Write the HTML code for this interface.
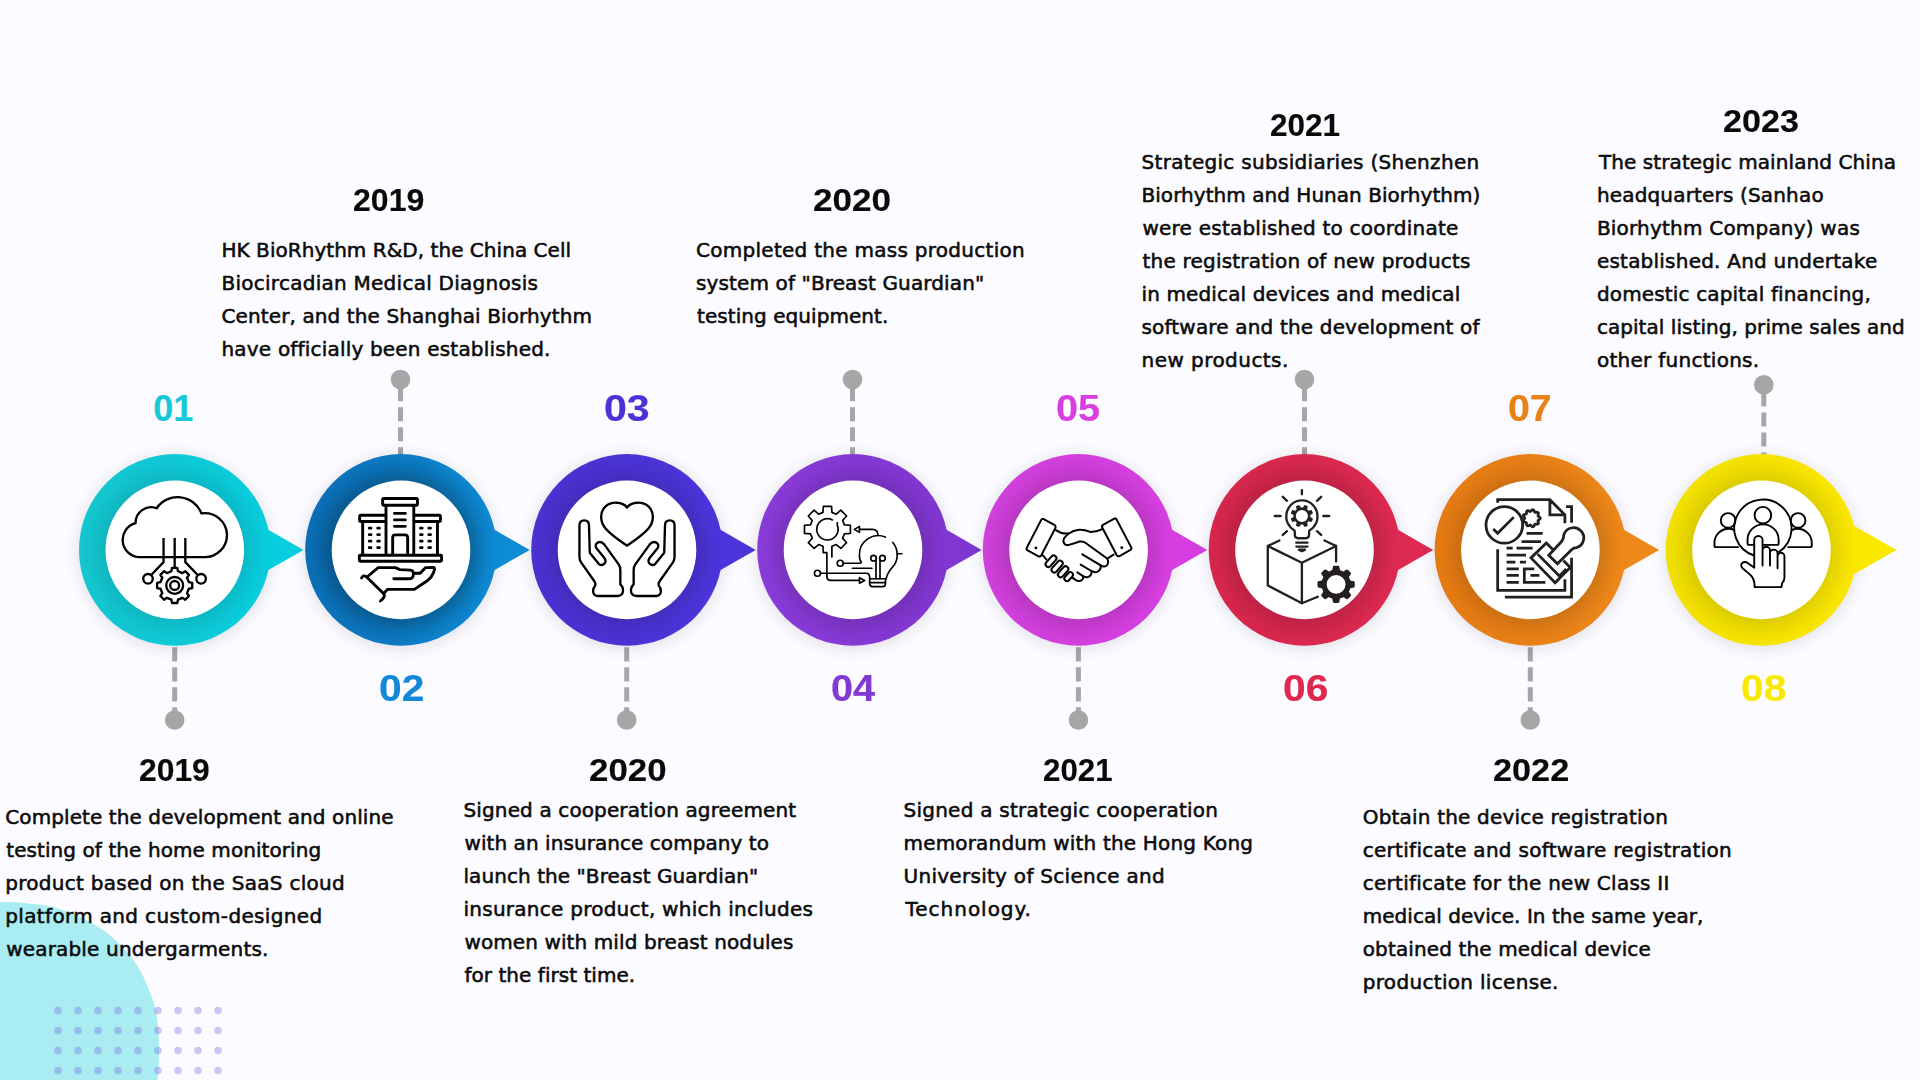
<!DOCTYPE html>
<html lang="en"><head><meta charset="utf-8"><title>BioRhythm milestones timeline</title>
<style>
html,body{margin:0;padding:0}
body{width:1920px;height:1080px;overflow:hidden;background:#fcfbff}
#stage{position:relative;width:1920px;height:1080px;overflow:hidden;background:#fcfbff;color:#0a0a0a}
#gfx{position:absolute;left:0;top:0}
.ln,.yr,.no{margin:0;padding:0}
.ln{position:absolute;white-space:nowrap;font-family:"DejaVu Sans", "Liberation Sans", sans-serif;font-size:20.0px;line-height:20.0px;height:20.0px;color:#0b0b0b;-webkit-text-stroke:0.55px #0b0b0b}
.yr{position:absolute;white-space:nowrap;font-family:"Liberation Sans", "DejaVu Sans", sans-serif;font-weight:bold;font-size:31.0px;line-height:31.0px;color:#0a0a0a;-webkit-text-stroke:0.15px #0a0a0a;transform-origin:0 0}
.no{position:absolute;white-space:nowrap;font-family:"Liberation Sans", "DejaVu Sans", sans-serif;font-weight:bold;font-size:36.0px;line-height:36.0px;-webkit-text-stroke:0.2px currentColor;transform-origin:0 0}

</style></head><body><div id="stage">
<svg id="gfx" width="1920" height="1080" viewBox="0 0 1920 1080">
<defs>
<linearGradient id="g0" gradientUnits="userSpaceOnUse" x1="79.0" y1="0" x2="304.8" y2="0"><stop offset="0" stop-color="#14c6cf"/><stop offset="1" stop-color="#05cfe1"/></linearGradient>
<linearGradient id="g1" gradientUnits="userSpaceOnUse" x1="305.2" y1="0" x2="531.0" y2="0"><stop offset="0" stop-color="#0a6eb6"/><stop offset="1" stop-color="#0e8fd9"/></linearGradient>
<linearGradient id="g2" gradientUnits="userSpaceOnUse" x1="531.2" y1="0" x2="757.0" y2="0"><stop offset="0" stop-color="#4a31d0"/><stop offset="1" stop-color="#4b35dc"/></linearGradient>
<linearGradient id="g3" gradientUnits="userSpaceOnUse" x1="757.2" y1="0" x2="983.0" y2="0"><stop offset="0" stop-color="#8a3bd9"/><stop offset="1" stop-color="#7f35cf"/></linearGradient>
<linearGradient id="g4" gradientUnits="userSpaceOnUse" x1="982.8" y1="0" x2="1208.6" y2="0"><stop offset="0" stop-color="#cf40da"/><stop offset="1" stop-color="#d83ee2"/></linearGradient>
<linearGradient id="g5" gradientUnits="userSpaceOnUse" x1="1208.7" y1="0" x2="1434.5" y2="0"><stop offset="0" stop-color="#d6264c"/><stop offset="1" stop-color="#de2a52"/></linearGradient>
<linearGradient id="g6" gradientUnits="userSpaceOnUse" x1="1434.6" y1="0" x2="1660.4" y2="0"><stop offset="0" stop-color="#e57a12"/><stop offset="1" stop-color="#ef8a1b"/></linearGradient>
<linearGradient id="g7" gradientUnits="userSpaceOnUse" x1="1665.7" y1="0" x2="1891.5" y2="0"><stop offset="0" stop-color="#f2e000"/><stop offset="1" stop-color="#fbe900"/></linearGradient>
<radialGradient id="sh0" cx="0.5" cy="0.5" r="0.5"><stop offset="0.703" stop-color="#000" stop-opacity="0.100"/><stop offset="0.773" stop-color="#000" stop-opacity="0.072"/><stop offset="0.843" stop-color="#000" stop-opacity="0.042"/><stop offset="0.913" stop-color="#000" stop-opacity="0.017"/><stop offset="0.988" stop-color="#000" stop-opacity="0"/></radialGradient>
<radialGradient id="sh1" cx="0.5" cy="0.5" r="0.5"><stop offset="0.703" stop-color="#000" stop-opacity="0.260"/><stop offset="0.773" stop-color="#000" stop-opacity="0.187"/><stop offset="0.843" stop-color="#000" stop-opacity="0.109"/><stop offset="0.913" stop-color="#000" stop-opacity="0.044"/><stop offset="0.988" stop-color="#000" stop-opacity="0"/></radialGradient>
<radialGradient id="sh2" cx="0.5" cy="0.5" r="0.5"><stop offset="0.703" stop-color="#000" stop-opacity="0.120"/><stop offset="0.773" stop-color="#000" stop-opacity="0.086"/><stop offset="0.843" stop-color="#000" stop-opacity="0.050"/><stop offset="0.913" stop-color="#000" stop-opacity="0.020"/><stop offset="0.988" stop-color="#000" stop-opacity="0"/></radialGradient>
<radialGradient id="sh3" cx="0.5" cy="0.5" r="0.5"><stop offset="0.703" stop-color="#000" stop-opacity="0.130"/><stop offset="0.773" stop-color="#000" stop-opacity="0.094"/><stop offset="0.843" stop-color="#000" stop-opacity="0.055"/><stop offset="0.913" stop-color="#000" stop-opacity="0.022"/><stop offset="0.988" stop-color="#000" stop-opacity="0"/></radialGradient>
<radialGradient id="sh4" cx="0.5" cy="0.5" r="0.5"><stop offset="0.703" stop-color="#000" stop-opacity="0.130"/><stop offset="0.773" stop-color="#000" stop-opacity="0.094"/><stop offset="0.843" stop-color="#000" stop-opacity="0.055"/><stop offset="0.913" stop-color="#000" stop-opacity="0.022"/><stop offset="0.988" stop-color="#000" stop-opacity="0"/></radialGradient>
<radialGradient id="sh5" cx="0.5" cy="0.5" r="0.5"><stop offset="0.703" stop-color="#000" stop-opacity="0.140"/><stop offset="0.773" stop-color="#000" stop-opacity="0.101"/><stop offset="0.843" stop-color="#000" stop-opacity="0.059"/><stop offset="0.913" stop-color="#000" stop-opacity="0.024"/><stop offset="0.988" stop-color="#000" stop-opacity="0"/></radialGradient>
<radialGradient id="sh6" cx="0.5" cy="0.5" r="0.5"><stop offset="0.703" stop-color="#000" stop-opacity="0.130"/><stop offset="0.773" stop-color="#000" stop-opacity="0.094"/><stop offset="0.843" stop-color="#000" stop-opacity="0.055"/><stop offset="0.913" stop-color="#000" stop-opacity="0.022"/><stop offset="0.988" stop-color="#000" stop-opacity="0"/></radialGradient>
<radialGradient id="sh7" cx="0.5" cy="0.5" r="0.5"><stop offset="0.703" stop-color="#000" stop-opacity="0.110"/><stop offset="0.773" stop-color="#000" stop-opacity="0.079"/><stop offset="0.843" stop-color="#000" stop-opacity="0.046"/><stop offset="0.913" stop-color="#000" stop-opacity="0.019"/><stop offset="0.988" stop-color="#000" stop-opacity="0"/></radialGradient>
<filter id="halo" x="-30%" y="-30%" width="160%" height="160%"><feGaussianBlur stdDeviation="8"/></filter>
</defs>
<path d="M-15,902.6 C-8.3,902.0 -5.5,902.2 0,902.2 C5.5,902.2 8.7,901.6 18,902.5 C27.3,903.4 43.2,904.3 55.6,907.8 C68.0,911.3 82.1,917.6 92.6,923.5 C103.1,929.4 111.1,936.0 118.5,943 C125.9,950.0 132.1,957.8 137,965.2 C141.9,972.6 144.9,980.0 148,987.4 C151.1,994.8 153.9,1002.2 155.6,1009.6 C157.3,1017.0 157.8,1024.5 158.3,1031.9 C158.9,1039.3 159.1,1046.0 158.9,1054 C158.8,1062.0 158.6,1071.5 157.4,1080 C156.2,1088.5 154.9,1096.7 152,1105 L-20,1110 Z" fill="#a9edf2"/>
<g fill="#6f5be0" fill-opacity="0.33">
<circle cx="58" cy="1010.5" r="3.8"/>
<circle cx="78" cy="1010.5" r="3.8"/>
<circle cx="98" cy="1010.5" r="3.8"/>
<circle cx="118" cy="1010.5" r="3.8"/>
<circle cx="138" cy="1010.5" r="3.8"/>
<circle cx="158" cy="1010.5" r="3.8"/>
<circle cx="178" cy="1010.5" r="3.8"/>
<circle cx="198" cy="1010.5" r="3.8"/>
<circle cx="218" cy="1010.5" r="3.8"/>
<circle cx="58" cy="1030.5" r="3.8"/>
<circle cx="78" cy="1030.5" r="3.8"/>
<circle cx="98" cy="1030.5" r="3.8"/>
<circle cx="118" cy="1030.5" r="3.8"/>
<circle cx="138" cy="1030.5" r="3.8"/>
<circle cx="158" cy="1030.5" r="3.8"/>
<circle cx="178" cy="1030.5" r="3.8"/>
<circle cx="198" cy="1030.5" r="3.8"/>
<circle cx="218" cy="1030.5" r="3.8"/>
<circle cx="58" cy="1050.5" r="3.8"/>
<circle cx="78" cy="1050.5" r="3.8"/>
<circle cx="98" cy="1050.5" r="3.8"/>
<circle cx="118" cy="1050.5" r="3.8"/>
<circle cx="138" cy="1050.5" r="3.8"/>
<circle cx="158" cy="1050.5" r="3.8"/>
<circle cx="178" cy="1050.5" r="3.8"/>
<circle cx="198" cy="1050.5" r="3.8"/>
<circle cx="218" cy="1050.5" r="3.8"/>
<circle cx="58" cy="1070.5" r="3.8"/>
<circle cx="78" cy="1070.5" r="3.8"/>
<circle cx="98" cy="1070.5" r="3.8"/>
<circle cx="118" cy="1070.5" r="3.8"/>
<circle cx="138" cy="1070.5" r="3.8"/>
<circle cx="158" cy="1070.5" r="3.8"/>
<circle cx="178" cy="1070.5" r="3.8"/>
<circle cx="198" cy="1070.5" r="3.8"/>
<circle cx="218" cy="1070.5" r="3.8"/>
</g>
<g stroke="#a6a6a6" stroke-width="5" fill="#a6a6a6">
<line x1="400.5" y1="387.3" x2="400.5" y2="460.1" stroke-dasharray="14 6"/>
<circle cx="400.5" cy="379.5" r="9.8" stroke="none"/>
<line x1="852.5" y1="387.3" x2="852.5" y2="460.1" stroke-dasharray="14 6"/>
<circle cx="852.5" cy="379.5" r="9.8" stroke="none"/>
<line x1="1304.5" y1="387.3" x2="1304.5" y2="460.1" stroke-dasharray="14 6"/>
<circle cx="1304.5" cy="379.5" r="9.8" stroke="none"/>
<line x1="1763.8" y1="392.6" x2="1763.8" y2="460.1" stroke-dasharray="14 6"/>
<circle cx="1763.8" cy="384.75" r="9.8" stroke="none"/>
<line x1="174.7" y1="647.2" x2="174.7" y2="720" stroke-dasharray="14.3 5.7"/>
<circle cx="174.7" cy="720" r="9.8" stroke="none"/>
<line x1="626.7" y1="647.2" x2="626.7" y2="720" stroke-dasharray="14.3 5.7"/>
<circle cx="626.7" cy="720" r="9.8" stroke="none"/>
<line x1="1078.4" y1="647.2" x2="1078.4" y2="720" stroke-dasharray="14.3 5.7"/>
<circle cx="1078.4" cy="720" r="9.8" stroke="none"/>
<line x1="1530.3" y1="647.2" x2="1530.3" y2="720" stroke-dasharray="14.3 5.7"/>
<circle cx="1530.3" cy="720" r="9.8" stroke="none"/>
</g>
<g transform="translate(174.8,549.9)">
<circle r="96.8" cy="2" fill="#1a1a40" fill-opacity="0.11" filter="url(#halo)"/>
</g>
<path fill="url(#g0)" d="M254.80,522.08 L303.50,549.90 L254.80,577.72 Z"/>
<circle cx="174.8" cy="549.9" r="95.8" fill="url(#g0)"/>
<circle cx="174.8" cy="549.9" r="95.8" fill="url(#sh0)"/>
<circle cx="174.8" cy="549.9" r="69.3" fill="#fff"/>
<g transform="translate(174.8,549.9) scale(0.111111) translate(-538.2,-540)" fill="none" stroke="#000" stroke-width="21" stroke-linecap="round" stroke-linejoin="round"><path d="M220,605 L808,605 A200,200 0 0 0 1008,405 A200,200 0 0 0 778,212 A229,229 0 0 0 375,165 A140,140 0 0 0 185,300 A155,155 0 0 0 220,605 Z" /><path d="M437,432 L437,650 L330,762" stroke-linecap="butt"/><path d="M633,432 L633,650 L740,762" stroke-linecap="butt"/><path d="M537,432 L537,700" stroke-linecap="butt"/><circle cx="297" cy="800" r="43"/><circle cx="775" cy="800" r="43"/><path d="M664.6,830.4 L695.2,836.2 L695.2,883.8 L664.6,889.6 L648.2,929.3 L665.7,955.1 L632.1,988.7 L606.3,971.2 L566.6,987.6 L560.8,1018.2 L513.2,1018.2 L507.4,987.6 L467.7,971.2 L441.9,988.7 L408.3,955.1 L425.8,929.3 L409.4,889.6 L378.8,883.8 L378.8,836.2 L409.4,830.4 L425.8,790.7 L408.3,764.9 L441.9,731.3 L467.7,748.8 L507.4,732.4 L513.2,701.8 L560.8,701.8 L566.6,732.4 L606.3,748.8 L632.1,731.3 L665.7,764.9 L648.2,790.7 Z"/><circle cx="537" cy="860" r="76"/><circle cx="537" cy="860" r="40"/></g>
<g transform="translate(401.0,549.9)">
<circle r="96.8" cy="2" fill="#1a1a40" fill-opacity="0.11" filter="url(#halo)"/>
</g>
<path fill="url(#g1)" d="M481.00,522.08 L529.70,549.90 L481.00,577.72 Z"/>
<circle cx="401.0" cy="549.9" r="95.8" fill="url(#g1)"/>
<circle cx="401.0" cy="549.9" r="95.8" fill="url(#sh1)"/>
<circle cx="401.0" cy="549.9" r="69.3" fill="#fff"/>
<g transform="translate(401.0,549.9) scale(0.111111) translate(-540,-540)" fill="none" stroke="#000" stroke-width="26" stroke-linecap="round" stroke-linejoin="round"><rect x="375" y="77" width="313" height="61" rx="10"/><path d="M405,140 L405,580 M655,140 L655,580"/><path d="M480,212 L580,212 M480,270 L580,270 M480,328 L580,328" stroke-width="24"/><path d="M465,580 L465,430 Q465,405 490,405 L575,405 Q600,405 600,430 L600,580"/><path d="M392,228 L180,228 Q168,228 168,240 L168,273 Q168,285 180,285 L392,285"/><path d="M668,228 L883,228 Q895,228 895,240 L895,273 Q895,285 883,285 L668,285"/><path d="M195,290 L195,580 M868,290 L868,580"/><path d="M254,345 L270,345 M254,403 L270,403 M254,462 L270,462 M254,520 L270,520 M330,345 L346,345 M330,403 L346,403 M330,462 L346,462 M330,520 L346,520 M715,345 L731,345 M715,403 L731,403 M715,462 L731,462 M715,520 L731,520 M790,345 L806,345 M790,403 L806,403 M790,462 L806,462 M790,520 L806,520" stroke-width="25"/><rect x="165" y="588" width="740" height="54" rx="8"/><path d="M185,792 Q200,762 228,782 L385,935 Q405,958 355,1000"/><path d="M245,775 L335,700 L490,700 L530,718 L625,722 Q655,725 652,760 Q648,800 615,800 L475,800"/><path d="M655,750 L712,750 L760,700 L835,697 Q850,700 832,745 Q815,790 780,815 L660,895 L420,895 L390,925"/></g>
<g transform="translate(627.0,549.9)">
<circle r="96.8" cy="2" fill="#1a1a40" fill-opacity="0.11" filter="url(#halo)"/>
</g>
<path fill="url(#g2)" d="M707.00,522.08 L755.70,549.90 L707.00,577.72 Z"/>
<circle cx="627.0" cy="549.9" r="95.8" fill="url(#g2)"/>
<circle cx="627.0" cy="549.9" r="95.8" fill="url(#sh2)"/>
<circle cx="627.0" cy="549.9" r="69.3" fill="#fff"/>
<g transform="translate(627.0,549.9) scale(0.111111) translate(-540,-540)" fill="none" stroke="#000" stroke-width="21" stroke-linecap="round" stroke-linejoin="round"><path d="M540,158 C500,105 400,100 345,150 C290,205 300,290 345,345 C400,410 480,460 540,502 C600,460 680,410 735,345 C780,290 790,205 735,150 C680,100 580,105 540,158 Z"/><path d="M112,320 Q112,275 155,275 Q198,275 198,320 L205,565 L285,665 Q315,690 340,660 Q355,635 335,610 L265,525 Q245,490 280,472 Q310,460 335,490 L465,670 Q480,690 480,720 L480,850 Q512,880 502,925 Q490,955 455,955 L275,955 Q235,950 235,910 Q235,880 255,860 Q258,835 245,820 L125,650 Q112,630 112,600 Z"/><path d="M112,320 Q112,275 155,275 Q198,275 198,320 L205,565 L285,665 Q315,690 340,660 Q355,635 335,610 L265,525 Q245,490 280,472 Q310,460 335,490 L465,670 Q480,690 480,720 L480,850 Q512,880 502,925 Q490,955 455,955 L275,955 Q235,950 235,910 Q235,880 255,860 Q258,835 245,820 L125,650 Q112,630 112,600 Z" transform="translate(1080,0) scale(-1,1)"/></g>
<g transform="translate(853.0,549.9)">
<circle r="96.8" cy="2" fill="#1a1a40" fill-opacity="0.11" filter="url(#halo)"/>
</g>
<path fill="url(#g3)" d="M933.00,522.08 L981.70,549.90 L933.00,577.72 Z"/>
<circle cx="853.0" cy="549.9" r="95.8" fill="url(#g3)"/>
<circle cx="853.0" cy="549.9" r="95.8" fill="url(#sh3)"/>
<circle cx="853.0" cy="549.9" r="69.3" fill="#fff"/>
<g transform="translate(853.0,549.9) scale(0.111111) translate(-540,-540)" fill="none" stroke="#000" stroke-width="15" stroke-linecap="round" stroke-linejoin="round"><path d="M305,780 L305,565 L272,565 L270,508 L230.6,491.6 L189.9,527.3 L137.7,475.1 L173.4,434.4 L157.3,395.5 L103.3,391.9 L103.3,318.1 L157.3,314.5 L173.4,275.6 L137.7,234.9 L189.9,182.7 L230.6,218.4 L269.5,202.3 L273.1,148.3 L346.9,148.3 L350.5,202.3 L389.4,218.4 L430.1,182.7 L482.3,234.9 L446.6,275.6 L462.7,314.5 L516.7,318.1 L516.7,391.9 L462.7,395.5 L446.6,434.4 L482.3,475.1 L430.1,527.3 L389.4,491.6 L350,508 L350,605"/><path d="M399.0,294.0 L399.0,319.0 A96,96 0 1 1 355.1,270.2"/><path d="M305,780 Q305,815 340,815 L598,815"/><path d="M598,790 L645,815 L598,840 Z"/><path d="M552,355 L598,328 L598,382 Z"/><path d="M598,355 L715,355 Q765,355 765,410"/><path d="M831.7,424.4 A170,170 0 0 0 598,590 Q598,630 612,645 Q618,660 600,660 L455,660"/><path d="M898.2,472.7 A170,170 0 0 1 938,590 Q935,650 900,690 Q850,745 838,800"/><path d="M938,575 L980,575"/><circle cx="425" cy="660" r="27"/><circle cx="220" cy="750" r="27"/><path d="M248,750 L660,750 Q690,750 690,790 L690,845 Q690,870 715,870 L810,870 Q832,870 832,845 L832,800"/><path d="M690,800 L832,800 M690,835 L832,835"/><path d="M535,705 L710,705"/><circle cx="725" cy="615" r="25"/><circle cx="805" cy="615" r="25"/><path d="M747,628 L747,800 M783,628 L783,800"/></g>
<g transform="translate(1078.6,549.9)">
<circle r="96.8" cy="2" fill="#1a1a40" fill-opacity="0.11" filter="url(#halo)"/>
</g>
<path fill="url(#g4)" d="M1158.60,522.08 L1207.30,549.90 L1158.60,577.72 Z"/>
<circle cx="1078.6" cy="549.9" r="95.8" fill="url(#g4)"/>
<circle cx="1078.6" cy="549.9" r="95.8" fill="url(#sh4)"/>
<circle cx="1078.6" cy="549.9" r="69.3" fill="#fff"/>
<g transform="translate(1078.6,549.9) scale(0.111111) translate(-536.4,-540)" fill="none" stroke="#000" stroke-width="18" stroke-linecap="round" stroke-linejoin="round"><path d="M222,262 L322,318 Q335,328 328,342 L200,590 Q190,605 175,598 L78,545 Q62,535 70,520 L200,270 Q208,255 222,262 Z"/><path d="M858,258 L756,315 Q742,325 750,340 L880,588 Q890,603 905,595 L1003,540 Q1017,530 1009,515 L878,266 Q870,252 858,258 Z"/><circle cx="152" cy="522" r="13" fill="#000" stroke="none"/><circle cx="925" cy="520" r="13" fill="#000" stroke="none"/><path d="M332,362 Q385,400 445,392"/><path d="M745,355 Q700,378 640,378 Q590,355 540,358 Q490,362 445,395 Q395,435 400,465 Q410,505 450,495 Q500,480 545,465 Q580,460 600,478 L790,615 Q815,650 790,680 Q765,700 735,680"/><path d="M805,612 L852,582"/><path d="M570,580 L735,680"/><path d="M735,680 Q740,720 705,738 Q680,745 655,732 L555,672"/><path d="M655,735 Q650,775 620,785 Q600,790 580,778 L525,742"/><path d="M580,780 Q575,815 545,820 Q525,822 505,808 L480,790"/><rect x="-25.0" y="-61.0" width="50" height="122" rx="25.0" fill="#fff" transform="translate(288,642) rotate(42)"/><rect x="-25.0" y="-63.0" width="50" height="126" rx="25.0" fill="#fff" transform="translate(343,690) rotate(42)"/><rect x="-24.5" y="-58.0" width="49" height="116" rx="24.5" fill="#fff" transform="translate(397,737) rotate(42)"/><rect x="-23.5" y="-46.0" width="47" height="92" rx="23.5" fill="#fff" transform="translate(447,781) rotate(42)"/><path d="M215,590 L248,628"/></g>
<g transform="translate(1304.5,549.9)">
<circle r="96.8" cy="2" fill="#1a1a40" fill-opacity="0.11" filter="url(#halo)"/>
</g>
<path fill="url(#g5)" d="M1384.50,522.08 L1433.20,549.90 L1384.50,577.72 Z"/>
<circle cx="1304.5" cy="549.9" r="95.8" fill="url(#g5)"/>
<circle cx="1304.5" cy="549.9" r="95.8" fill="url(#sh5)"/>
<circle cx="1304.5" cy="549.9" r="69.3" fill="#fff"/>
<g transform="translate(1304.5,549.9) scale(0.111111) translate(-535.5,-540)" fill="none" stroke="#231f20" stroke-width="21" stroke-linecap="round" stroke-linejoin="round"><path d="M310,455 L205,505 L205,860 L512,1020 L655,962 M205,505 L512,655 L820,505 L715,455 M512,655 L512,1020 M820,505 L820,645"/><path d="M447,368 C385,330 368,270 372,235 A140,140 0 0 1 652,235 C656,270 640,330 578,368 L576,410 Q573,435 548,435 L477,435 Q452,435 449,410 Z"/><path d="M462,475 L562,475 M462,510 L562,510"/><path d="M485,538 L540,538 L512,552 Z" fill="#231f20"/><path d="M512,2 L512,40 M340,62 L378,98 M685,62 L648,98 M268,235 L320,235 M705,235 L758,235 M378,372 L340,405 M648,372 L685,405"/><path d="M588.0,235.0 L588.0,237.5 L587.8,240.0 L587.6,242.4 L588.0,245.0 L595.1,248.7 L602.5,253.0 L609.7,257.8 L610.5,261.4 L609.6,264.6 L608.6,267.8 L607.5,270.9 L606.2,274.0 L604.9,277.1 L603.5,280.1 L602.0,283.1 L600.3,286.0 L597.2,288.0 L588.7,286.3 L580.4,284.0 L572.8,281.7 L570.7,283.2 L569.1,285.1 L567.5,287.0 L565.7,288.7 L564.0,290.5 L562.1,292.1 L560.2,293.7 L558.7,295.8 L561.0,303.4 L563.3,311.7 L565.0,320.2 L563.0,323.3 L560.1,325.0 L557.1,326.5 L554.1,327.9 L551.0,329.2 L547.9,330.5 L544.8,331.6 L541.6,332.6 L538.4,333.5 L534.8,332.7 L530.0,325.5 L525.7,318.1 L522.0,311.0 L519.4,310.6 L517.0,310.8 L514.5,311.0 L512.0,311.0 L509.5,311.0 L507.0,310.8 L504.6,310.6 L502.0,311.0 L498.3,318.1 L494.0,325.5 L489.2,332.7 L485.6,333.5 L482.4,332.6 L479.2,331.6 L476.1,330.5 L473.0,329.2 L469.9,327.9 L466.9,326.5 L463.9,325.0 L461.0,323.3 L459.0,320.2 L460.7,311.7 L463.0,303.4 L465.3,295.8 L463.8,293.7 L461.9,292.1 L460.0,290.5 L458.3,288.7 L456.5,287.0 L454.9,285.1 L453.3,283.2 L451.2,281.7 L443.6,284.0 L435.3,286.3 L426.8,288.0 L423.7,286.0 L422.0,283.1 L420.5,280.1 L419.1,277.1 L417.8,274.0 L416.5,270.9 L415.4,267.8 L414.4,264.6 L413.5,261.4 L414.3,257.8 L421.5,253.0 L428.9,248.7 L436.0,245.0 L436.4,242.4 L436.2,240.0 L436.0,237.5 L436.0,235.0 L436.0,232.5 L436.2,230.0 L436.4,227.6 L436.0,225.0 L428.9,221.3 L421.5,217.0 L414.3,212.2 L413.5,208.6 L414.4,205.4 L415.4,202.2 L416.5,199.1 L417.8,196.0 L419.1,192.9 L420.5,189.9 L422.0,186.9 L423.7,184.0 L426.8,182.0 L435.3,183.7 L443.6,186.0 L451.2,188.3 L453.3,186.8 L454.9,184.9 L456.5,183.0 L458.3,181.3 L460.0,179.5 L461.9,177.9 L463.8,176.3 L465.3,174.2 L463.0,166.6 L460.7,158.3 L459.0,149.8 L461.0,146.7 L463.9,145.0 L466.9,143.5 L469.9,142.1 L473.0,140.8 L476.1,139.5 L479.2,138.4 L482.4,137.4 L485.6,136.5 L489.2,137.3 L494.0,144.5 L498.3,151.9 L502.0,159.0 L504.6,159.4 L507.0,159.2 L509.5,159.0 L512.0,159.0 L514.5,159.0 L517.0,159.2 L519.4,159.4 L522.0,159.0 L525.7,151.9 L530.0,144.5 L534.8,137.3 L538.4,136.5 L541.6,137.4 L544.8,138.4 L547.9,139.5 L551.0,140.8 L554.1,142.1 L557.1,143.5 L560.1,145.0 L563.0,146.7 L565.0,149.8 L563.3,158.3 L561.0,166.6 L558.7,174.2 L560.2,176.3 L562.1,177.9 L564.0,179.5 L565.7,181.3 L567.5,183.0 L569.1,184.9 L570.7,186.8 L572.8,188.3 L580.4,186.0 L588.7,183.7 L597.2,182.0 L600.3,184.0 L602.0,186.9 L603.5,189.9 L604.9,192.9 L606.2,196.0 L607.5,199.1 L608.6,202.2 L609.6,205.4 L610.5,208.6 L609.7,212.2 L602.5,217.0 L595.1,221.3 L588.0,225.0 L587.6,227.6 L587.8,230.0 L588.0,232.5 Z M567,235 A55,55 0 1 0 457,235 A55,55 0 1 0 567,235 Z" fill="#231f20" fill-rule="evenodd" stroke="none"/><path d="M988.0,850.0 L987.9,855.5 L987.6,861.0 L987.2,866.5 L986.6,871.9 L983.5,877.0 L971.5,880.1 L959.6,882.5 L948.4,884.4 L946.3,888.3 L945.0,892.4 L943.5,896.5 L942.0,900.5 L940.2,904.5 L938.4,908.4 L936.4,912.2 L935.1,916.4 L941.7,925.7 L948.5,935.8 L954.7,946.5 L953.3,952.3 L949.9,956.6 L946.3,960.8 L942.6,964.8 L938.8,968.8 L934.8,972.6 L930.8,976.3 L926.6,979.9 L922.3,983.3 L916.5,984.7 L905.8,978.5 L895.7,971.7 L886.5,965.1 L882.2,966.4 L878.4,968.4 L874.5,970.2 L870.5,972.0 L866.5,973.5 L862.4,975.0 L858.3,976.3 L854.4,978.4 L852.5,989.6 L850.1,1001.5 L847.0,1013.5 L841.9,1016.6 L836.5,1017.2 L831.0,1017.6 L825.5,1017.9 L820.0,1018.0 L814.5,1017.9 L809.0,1017.6 L803.5,1017.2 L798.1,1016.6 L793.0,1013.5 L789.9,1001.5 L787.5,989.6 L785.6,978.4 L781.7,976.3 L777.6,975.0 L773.5,973.5 L769.5,972.0 L765.5,970.2 L761.6,968.4 L757.8,966.4 L753.6,965.1 L744.3,971.7 L734.2,978.5 L723.5,984.7 L717.7,983.3 L713.4,979.9 L709.2,976.3 L705.2,972.6 L701.2,968.8 L697.4,964.8 L693.7,960.8 L690.1,956.6 L686.7,952.3 L685.3,946.5 L691.5,935.8 L698.3,925.7 L704.9,916.4 L703.6,912.2 L701.6,908.4 L699.8,904.5 L698.0,900.5 L696.5,896.5 L695.0,892.4 L693.7,888.3 L691.6,884.4 L680.4,882.5 L668.5,880.1 L656.5,877.0 L653.4,871.9 L652.8,866.5 L652.4,861.0 L652.1,855.5 L652.0,850.0 L652.1,844.5 L652.4,839.0 L652.8,833.5 L653.4,828.1 L656.5,823.0 L668.5,819.9 L680.4,817.5 L691.6,815.6 L693.7,811.7 L695.0,807.6 L696.5,803.5 L698.0,799.5 L699.8,795.5 L701.6,791.6 L703.6,787.8 L704.9,783.6 L698.3,774.3 L691.5,764.2 L685.3,753.5 L686.7,747.7 L690.1,743.4 L693.7,739.2 L697.4,735.2 L701.2,731.2 L705.2,727.4 L709.2,723.7 L713.4,720.1 L717.7,716.7 L723.5,715.3 L734.2,721.5 L744.3,728.3 L753.5,734.9 L757.8,733.6 L761.6,731.6 L765.5,729.8 L769.5,728.0 L773.5,726.5 L777.6,725.0 L781.7,723.7 L785.6,721.6 L787.5,710.4 L789.9,698.5 L793.0,686.5 L798.1,683.4 L803.5,682.8 L809.0,682.4 L814.5,682.1 L820.0,682.0 L825.5,682.1 L831.0,682.4 L836.5,682.8 L841.9,683.4 L847.0,686.5 L850.1,698.5 L852.5,710.4 L854.4,721.6 L858.3,723.7 L862.4,725.0 L866.5,726.5 L870.5,728.0 L874.5,729.8 L878.4,731.6 L882.2,733.6 L886.5,734.9 L895.7,728.3 L905.8,721.5 L916.5,715.3 L922.3,716.7 L926.6,720.1 L930.8,723.7 L934.8,727.4 L938.8,731.2 L942.6,735.2 L946.3,739.2 L949.9,743.4 L953.3,747.7 L954.7,753.5 L948.5,764.2 L941.7,774.3 L935.1,783.5 L936.4,787.8 L938.4,791.6 L940.2,795.5 L942.0,799.5 L943.5,803.5 L945.0,807.6 L946.3,811.7 L948.4,815.6 L959.6,817.5 L971.5,819.9 L983.5,823.0 L986.6,828.1 L987.2,833.5 L987.6,839.0 L987.9,844.5 Z M905,850 A85,85 0 1 0 735,850 A85,85 0 1 0 905,850 Z" fill="#231f20" fill-rule="evenodd" stroke="none"/></g>
<g transform="translate(1530.4,549.9)">
<circle r="96.8" cy="2" fill="#1a1a40" fill-opacity="0.11" filter="url(#halo)"/>
</g>
<path fill="url(#g6)" d="M1610.40,522.08 L1659.10,549.90 L1610.40,577.72 Z"/>
<circle cx="1530.4" cy="549.9" r="95.8" fill="url(#g6)"/>
<circle cx="1530.4" cy="549.9" r="95.8" fill="url(#sh6)"/>
<circle cx="1530.4" cy="549.9" r="69.3" fill="#fff"/>
<g transform="translate(1530.4,549.9) scale(0.111111) translate(-534.6,-540)" fill="none" stroke="#231f20" stroke-width="25" stroke-linecap="butt" stroke-linejoin="miter"><path d="M240,115 L240,88 L710,88 L845,225 L845,300 M710,88 L710,225 L845,225"/><path d="M855,150 L905,150 L905,295 M905,610 L905,965 L305,965"/><path d="M240,535 L240,905 L845,905 L845,805"/><circle cx="300" cy="315" r="165"/><path d="M200,352 L240,390 L385,245"/><path d="M623.0,255.0 L621.5,260.0 L617.4,264.5 L612.1,268.4 L607.2,271.7 L603.9,275.0 L602.8,279.0 L603.8,284.0 L605.6,290.0 L606.9,296.4 L606.4,302.1 L603.5,306.3 L598.5,308.5 L592.2,308.8 L585.7,308.1 L580.2,307.7 L576.0,308.7 L573.0,311.8 L570.6,316.8 L568.0,322.8 L564.6,328.1 L560.2,331.4 L555.1,331.7 L549.9,329.3 L545.0,325.0 L540.7,320.4 L536.8,317.1 L532.9,316.0 L528.3,317.2 L523.0,319.8 L517.0,322.5 L511.1,323.7 L506.0,322.5 L502.4,318.7 L500.5,313.0 L499.9,306.5 L499.5,300.5 L498.3,296.0 L495.3,293.1 L490.5,291.4 L484.4,290.0 L478.2,287.9 L473.5,284.6 L471.3,280.0 L471.9,274.6 L474.8,269.0 L478.6,263.7 L481.8,259.1 L483.0,255.0 L481.8,250.9 L478.6,246.3 L474.8,241.0 L471.9,235.4 L471.3,230.0 L473.5,225.4 L478.2,222.1 L484.4,220.0 L490.5,218.6 L495.3,216.9 L498.3,214.0 L499.5,209.5 L499.9,203.5 L500.5,197.0 L502.4,191.3 L506.0,187.5 L511.1,186.3 L517.0,187.5 L523.0,190.2 L528.3,192.8 L532.9,194.0 L536.8,192.9 L540.7,189.6 L545.0,185.0 L549.9,180.7 L555.1,178.3 L560.2,178.6 L564.6,181.9 L568.0,187.2 L570.6,193.2 L573.0,198.2 L576.0,201.3 L580.2,202.3 L585.7,201.9 L592.2,201.2 L598.5,201.5 L603.5,203.7 L606.4,207.9 L606.9,213.6 L605.6,220.0 L603.8,226.0 L602.8,231.0 L603.9,235.0 L607.2,238.3 L612.1,241.6 L617.4,245.5 L621.5,250.0 Z"/><path d="M500,392 L645,392 M455,465 L630,465 M320,525 L375,525 M410,525 L555,525 M320,588 L495,588 M320,650 L400,650 M440,650 L495,650 M320,710 L430,710 M320,770 L430,770 M320,832 L430,832 M535,770 L615,770"/><path d="M570,710 L480,710 L480,832 L670,832"/><path d="M742,542 L678,478 L540,612 L757,835 L893,698 L832,636"/><path d="M600,578 L795,775 L858,712"/><path d="M700,588 L778,665 L905,538 Q925,520 950,520 A92,92 0 1 0 835,405 Q835,440 815,465 Z"/></g>
<g transform="translate(1761.5,549.9)">
<circle r="96.8" cy="2" fill="#1a1a40" fill-opacity="0.11" filter="url(#halo)"/>
</g>
<path fill="url(#g7)" d="M1841.50,518.66 L1896.50,549.90 L1841.50,581.14 Z"/>
<circle cx="1761.5" cy="549.9" r="95.8" fill="url(#g7)"/>
<circle cx="1761.5" cy="549.9" r="95.8" fill="url(#sh7)"/>
<circle cx="1761.5" cy="549.9" r="69.3" fill="#fff"/>
<g transform="translate(1761.5,549.9) scale(0.111111) translate(-535.5,-540)" fill="none" stroke="#000" stroke-width="17" stroke-linecap="round" stroke-linejoin="round"><path d="M692.3,558.9 A258,258 0 1 0 468.3,590.4"/><circle cx="548" cy="228" r="75"/><path d="M470,495 L425,495 Q410,495 410,480 L410,450 A140,140 0 0 1 690,450 L690,480 Q690,495 675,495 L548,495"/><circle cx="235" cy="275" r="66"/><circle cx="865" cy="275" r="66"/><path d="M325,515 L127,515 Q112,515 112,500 L112,478 A128,128 0 0 1 240,350 Q268,350 290,362"/><path d="M775,515 L973,515 Q988,515 988,500 L988,478 A128,128 0 0 0 860,350 Q832,350 810,362"/><path d="M470,700 L470,452 A37.5,37.5 0 0 1 545,452 L545,680 M545,545 A33.5,33.5 0 0 1 612,545 L612,680 M612,572 A34,34 0 0 1 680,572 L680,705 M680,597 A31,31 0 0 1 742,597 L742,790 Q742,820 720,842 L715,875 L475,875 L470,830 Q465,790 430,760 L365,705 Q340,675 365,655 Q390,640 415,660 L470,700"/></g>
</svg>
<section class="ms">
<div class="no" style="left:153.24px;top:390.50px;color:#16c8d8;transform:scaleX(1.0000)">01</div>
<h2 class="yr" style="left:138.97px;top:754.50px;transform:scaleX(1.0263)">2019</h2>
<p class="ln" style="left:5.25px;top:806.75px;letter-spacing:0.091px">Complete the development and online</p>
<p class="ln" style="left:6.25px;top:839.75px;letter-spacing:0.076px">testing of the home monitoring</p>
<p class="ln" style="left:5.25px;top:872.75px;letter-spacing:0.286px">product based on the SaaS cloud</p>
<p class="ln" style="left:5.25px;top:905.75px;letter-spacing:0.348px">platform and custom-designed</p>
<p class="ln" style="left:6.25px;top:938.75px;letter-spacing:0.167px">wearable undergarments.</p>
</section>
<section class="ms">
<div class="no" style="left:378.87px;top:670.50px;color:#1388d8;transform:scaleX(1.1309)">02</div>
<h2 class="yr" style="left:353.47px;top:184.50px;transform:scaleX(1.0336)">2019</h2>
<p class="ln" style="left:221.50px;top:240.00px;letter-spacing:0.036px">HK BioRhythm R&amp;D, the China Cell</p>
<p class="ln" style="left:221.50px;top:273.00px;letter-spacing:0.261px">Biocircadian Medical Diagnosis</p>
<p class="ln" style="left:221.50px;top:306.00px;letter-spacing:0.108px">Center, and the Shanghai Biorhythm</p>
<p class="ln" style="left:221.50px;top:339.00px;letter-spacing:0.190px">have officially been established.</p>
</section>
<section class="ms">
<div class="no" style="left:603.86px;top:390.50px;color:#4a33d6;transform:scaleX(1.1415)">03</div>
<h2 class="yr" style="left:588.88px;top:754.50px;transform:scaleX(1.1241)">2020</h2>
<p class="ln" style="left:463.50px;top:800.00px;letter-spacing:0.129px">Signed a cooperation agreement</p>
<p class="ln" style="left:464.50px;top:833.00px;letter-spacing:0.061px">with an insurance company to</p>
<p class="ln" style="left:463.50px;top:866.00px;letter-spacing:0.065px">launch the "Breast Guardian"</p>
<p class="ln" style="left:463.50px;top:899.00px;letter-spacing:0.254px">insurance product, which includes</p>
<p class="ln" style="left:464.50px;top:932.00px;letter-spacing:0.098px">women with mild breast nodules</p>
<p class="ln" style="left:464.50px;top:965.00px;letter-spacing:0.033px">for the first time.</p>
</section>
<section class="ms">
<div class="no" style="left:830.90px;top:670.50px;color:#8238d3;transform:scaleX(1.1020)">04</div>
<h2 class="yr" style="left:813.37px;top:184.50px;transform:scaleX(1.1316)">2020</h2>
<p class="ln" style="left:696.00px;top:240.00px;letter-spacing:0.276px">Completed the mass production</p>
<p class="ln" style="left:696.00px;top:273.00px;letter-spacing:0.128px">system of "Breast Guardian"</p>
<p class="ln" style="left:697.00px;top:306.00px;letter-spacing:0.063px">testing equipment.</p>
</section>
<section class="ms">
<div class="no" style="left:1055.90px;top:390.50px;color:#d740df;transform:scaleX(1.1020)">05</div>
<h2 class="yr" style="left:1043.24px;top:754.50px;transform:scaleX(1.0078)">2021</h2>
<p class="ln" style="left:903.50px;top:800.00px;letter-spacing:0.244px">Signed a strategic cooperation</p>
<p class="ln" style="left:903.50px;top:833.00px;letter-spacing:0.174px">memorandum with the Hong Kong</p>
<p class="ln" style="left:903.50px;top:866.00px;letter-spacing:0.283px">University of Science and</p>
<p class="ln" style="left:905.50px;top:899.00px;letter-spacing:0.982px">Technology.</p>
</section>
<section class="ms">
<div class="no" style="left:1282.87px;top:670.50px;color:#de2850;transform:scaleX(1.1309)">06</div>
<h2 class="yr" style="left:1269.73px;top:110.00px;transform:scaleX(1.0152)">2021</h2>
<p class="ln" style="left:1141.50px;top:151.50px;letter-spacing:0.305px">Strategic subsidiaries (Shenzhen</p>
<p class="ln" style="left:1141.50px;top:184.50px;letter-spacing:0.041px">Biorhythm and Hunan Biorhythm)</p>
<p class="ln" style="left:1142.50px;top:217.50px;letter-spacing:0.224px">were established to coordinate</p>
<p class="ln" style="left:1142.50px;top:250.50px;letter-spacing:0.204px">the registration of new products</p>
<p class="ln" style="left:1141.50px;top:283.50px;letter-spacing:0.128px">in medical devices and medical</p>
<p class="ln" style="left:1141.50px;top:316.50px;letter-spacing:0.169px">software and the development of</p>
<p class="ln" style="left:1141.50px;top:349.50px;letter-spacing:0.455px">new products.</p>
</section>
<section class="ms">
<div class="no" style="left:1508.41px;top:390.50px;color:#ea8117;transform:scaleX(1.0915)">07</div>
<h2 class="yr" style="left:1492.64px;top:754.50px;transform:scaleX(1.1053)">2022</h2>
<p class="ln" style="left:1362.75px;top:806.75px;letter-spacing:0.187px">Obtain the device registration</p>
<p class="ln" style="left:1362.75px;top:839.75px;letter-spacing:0.279px">certificate and software registration</p>
<p class="ln" style="left:1362.75px;top:872.75px;letter-spacing:0.254px">certificate for the new Class II</p>
<p class="ln" style="left:1362.75px;top:905.75px;letter-spacing:0.034px">medical device. In the same year,</p>
<p class="ln" style="left:1362.75px;top:938.75px;letter-spacing:0.129px">obtained the medical device</p>
<p class="ln" style="left:1362.75px;top:971.75px;letter-spacing:0.316px">production license.</p>
</section>
<section class="ms">
<div class="no" style="left:1740.87px;top:670.50px;color:#fae800;transform:scaleX(1.1309)">08</div>
<h2 class="yr" style="left:1722.90px;top:105.80px;transform:scaleX(1.1001)">2023</h2>
<p class="ln" style="left:1598.90px;top:151.75px;letter-spacing:0.088px">The strategic mainland China</p>
<p class="ln" style="left:1596.90px;top:184.75px;letter-spacing:0.169px">headquarters (Sanhao</p>
<p class="ln" style="left:1596.90px;top:217.75px;letter-spacing:0.206px">Biorhythm Company) was</p>
<p class="ln" style="left:1596.90px;top:250.75px;letter-spacing:0.224px">established. And undertake</p>
<p class="ln" style="left:1596.90px;top:283.75px;letter-spacing:0.152px">domestic capital financing,</p>
<p class="ln" style="left:1596.90px;top:316.75px;letter-spacing:0.055px">capital listing, prime sales and</p>
<p class="ln" style="left:1596.90px;top:349.75px;letter-spacing:0.276px">other functions.</p>
</section>
</div></body></html>
